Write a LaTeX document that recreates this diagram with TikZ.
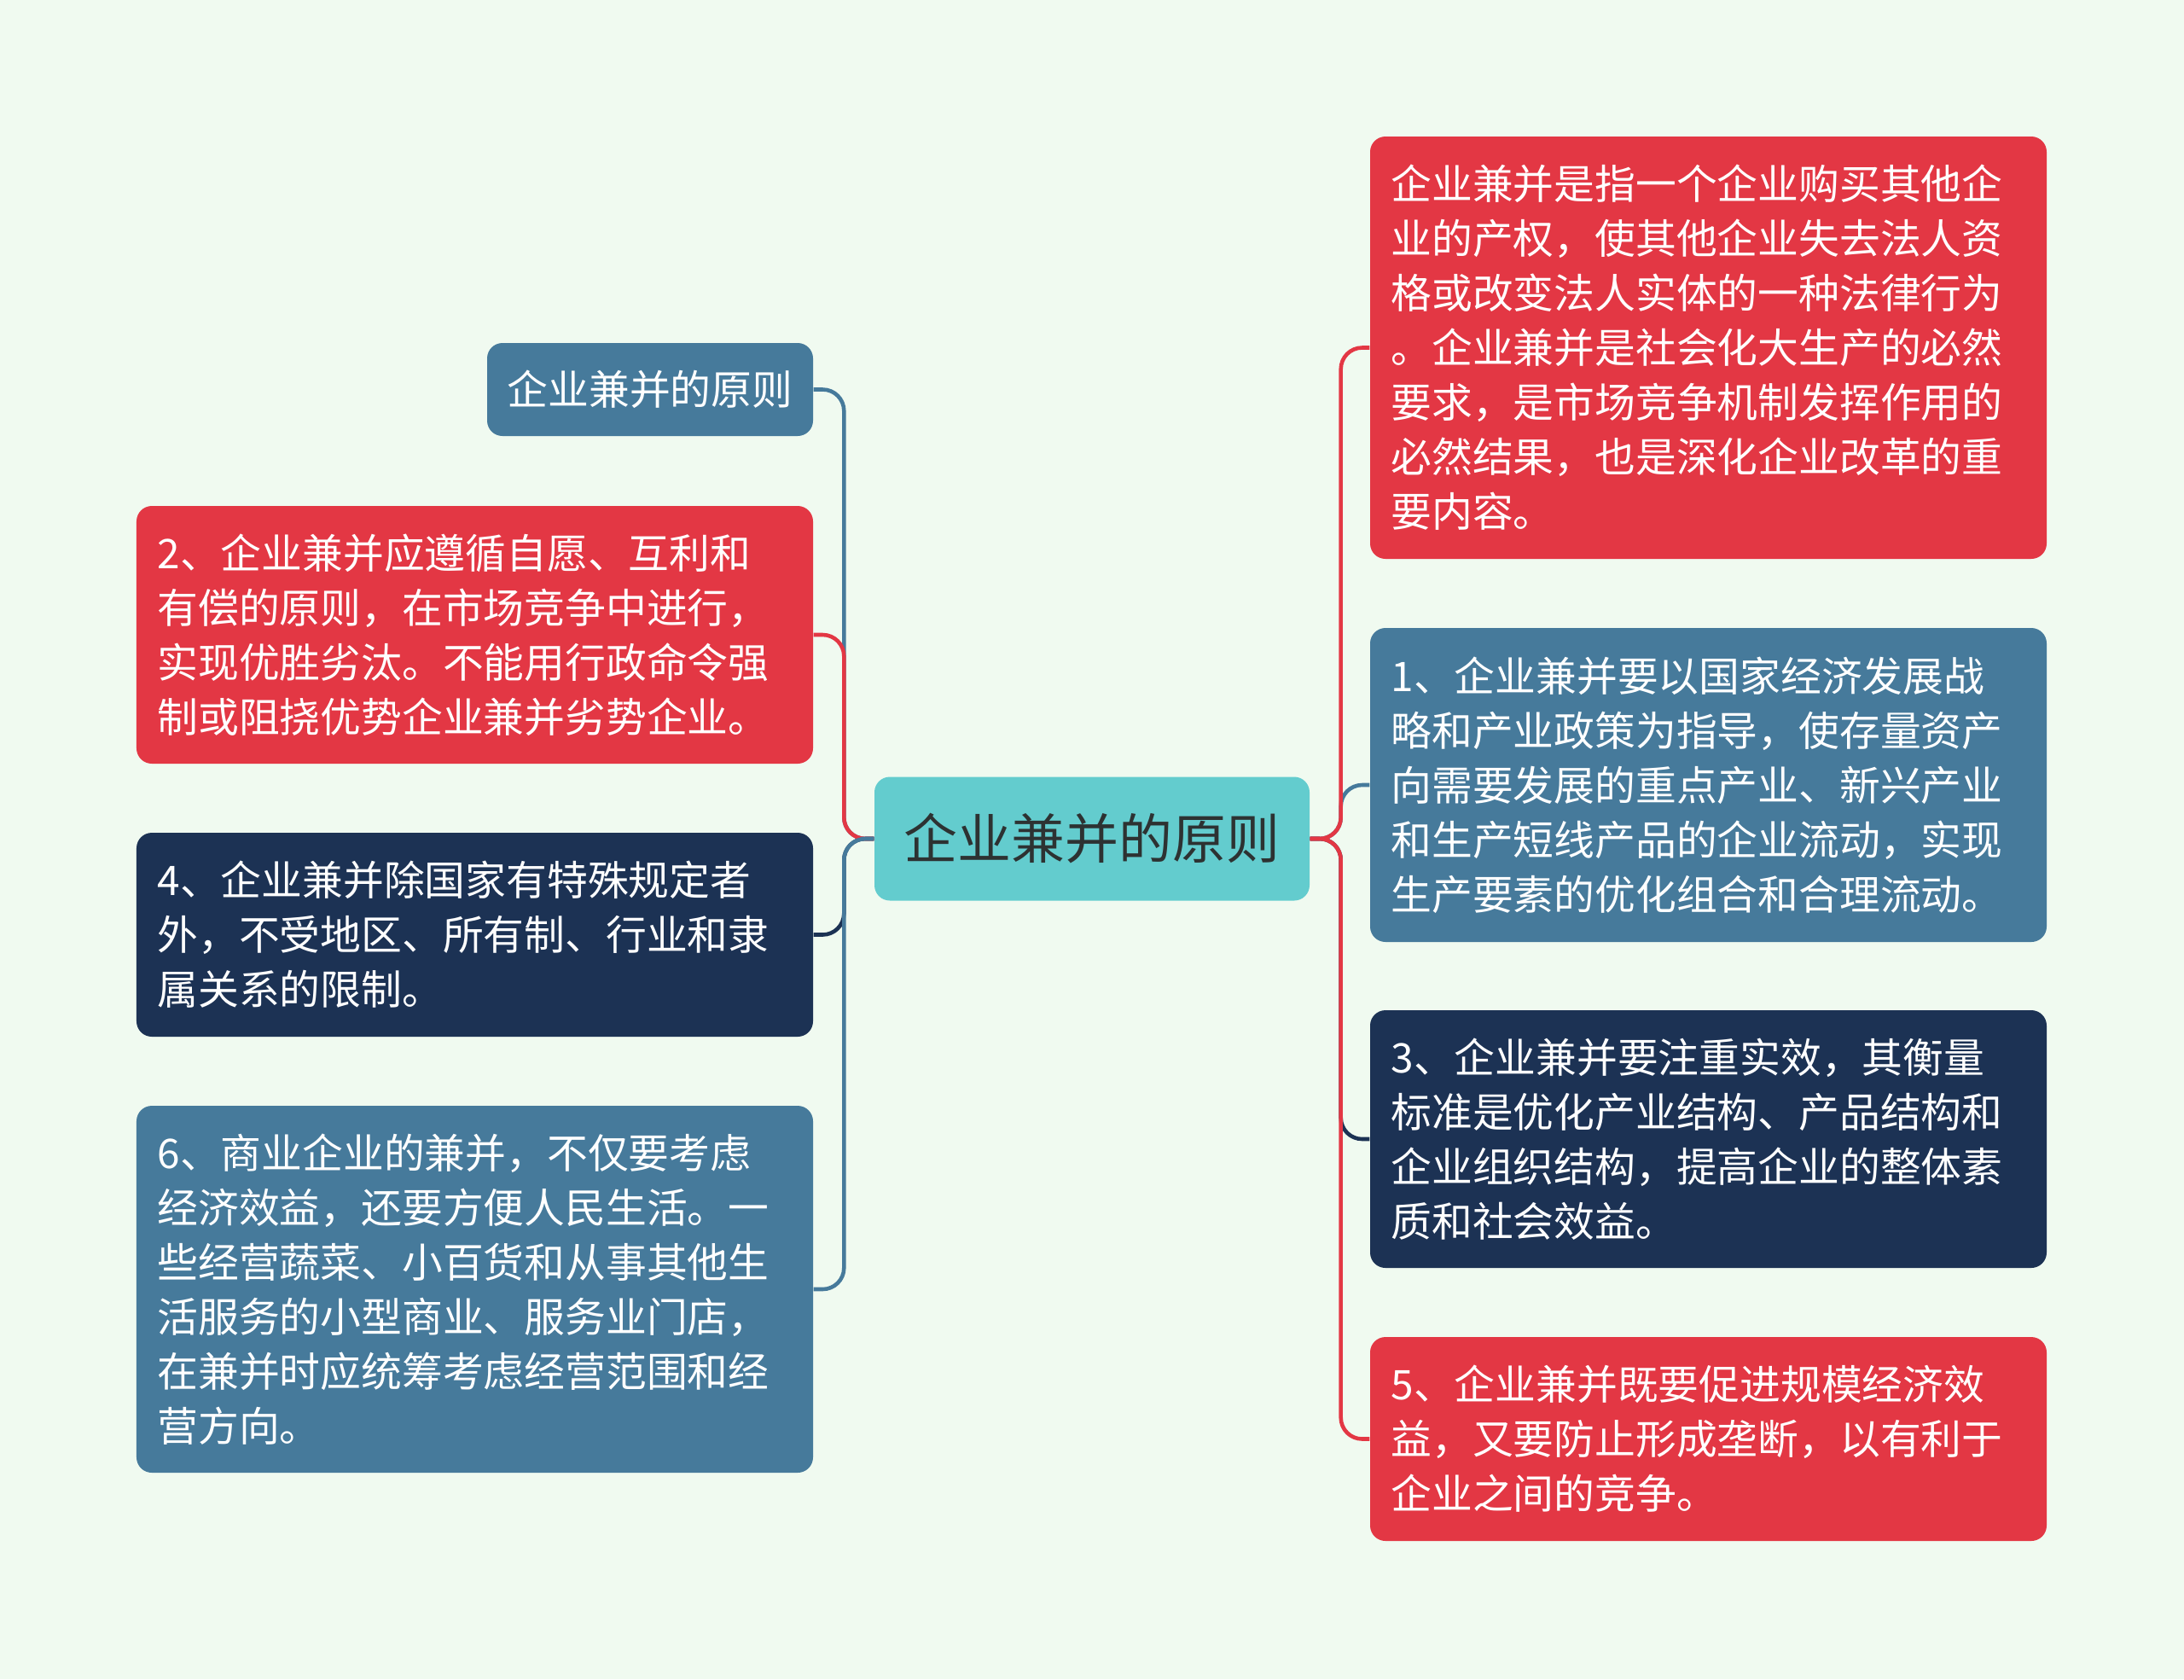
\documentclass[tikz,border=0pt]{standalone}
\usepackage{fontspec}
\setmainfont{Noto Sans CJK SC}
\usepackage{tikz}
\usetikzlibrary{positioning}
\definecolor{mapbg}{RGB}{240,250,240}
\definecolor{mapred}{RGB}{227,55,68}
\definecolor{mapblue}{RGB}{70,122,155}
\definecolor{mapnavy}{RGB}{28,50,84}
\definecolor{mapteal}{RGB}{99,204,206}
\definecolor{maptext}{RGB}{45,50,50}

\begin{document}
\begin{tikzpicture}[x=1mm,y=-1mm,
    every node/.style={font=\fontsize{13.6pt}{18.2pt}\selectfont},
    root/.style={rectangle,rounded corners=1.8mm,fill=mapteal,text=maptext,
      minimum width=51mm,minimum height=14.5mm,inner sep=0pt,
      font=\fontsize{17.9pt}{22pt}\selectfont},
    tag/.style={rectangle,rounded corners=1.8mm,text=white,
      minimum width=38.2mm,minimum height=10.9mm,inner sep=0pt},
    leaf/.style={rectangle,rounded corners=1.8mm,text=white,align=left,
      text width=74.4mm,inner xsep=2.45mm,inner ysep=0pt,minimum width=79.3mm},
    link/.style={line width=1.3pt,rounded corners=2.5mm}]
  \fill[mapbg] (0,0) rectangle (256,196.8);
  \useasboundingbox (0,0) rectangle (256,196.8);

  \node[root] (root) at (128,98.3) {企业兼并的原则};

  % left side
  \node[tag,fill=mapblue] (title) at (76.2,45.65) {企业兼并的原则};
  \node[leaf,fill=mapred,minimum height=30.2mm] (p2) at (55.65,74.4)
    {2、企业兼并应遵循自愿、互利和\\有偿的原则，在市场竞争中进行，\\实现优胜劣汰。不能用行政命令强\\制或阻挠优势企业兼并劣势企业。};
  \node[leaf,fill=mapnavy,minimum height=23.9mm] (p4) at (55.65,109.55)
    {4、企业兼并除国家有特殊规定者\\外，不受地区、所有制、行业和隶\\属关系的限制。};
  \node[leaf,fill=mapblue,minimum height=43mm] (p6) at (55.65,151.1)
    {6、商业企业的兼并，不仅要考虑\\经济效益，还要方便人民生活。一\\些经营蔬菜、小百货和从事其他生\\活服务的小型商业、服务业门店，\\在兼并时应统筹考虑经营范围和经\\营方向。};

  % right side
  \node[leaf,fill=mapred,minimum height=49.5mm] (def) at (200.25,40.75)
    {企业兼并是指一个企业购买其他企\\业的产权，使其他企业失去法人资\\格或改变法人实体的一种法律行为\\。企业兼并是社会化大生产的必然\\要求，是市场竞争机制发挥作用的\\必然结果，也是深化企业改革的重\\要内容。};
  \node[leaf,fill=mapblue,minimum height=36.8mm] (p1) at (200.25,92)
    {1、企业兼并要以国家经济发展战\\略和产业政策为指导，使存量资产\\向需要发展的重点产业、新兴产业\\和生产短线产品的企业流动，实现\\生产要素的优化组合和合理流动。};
  \node[leaf,fill=mapnavy,minimum height=30.2mm] (p3) at (200.25,133.5)
    {3、企业兼并要注重实效，其衡量\\标准是优化产业结构、产品结构和\\企业组织结构，提高企业的整体素\\质和社会效益。};
  \node[leaf,fill=mapred,minimum height=23.9mm] (p5) at (200.25,168.65)
    {5、企业兼并既要促进规模经济效\\益，又要防止形成垄断，以有利于\\企业之间的竞争。};

  % branches
  \draw[link,mapblue] (root.west) -- ++(-3.5,0) |- (title.east);
  \draw[link,mapnavy] (root.west) -- ++(-3.5,0) |- (p4.east);
  \draw[link,mapred] (root.west) -- ++(-3.5,0) |- (p2.east);
  \draw[link,mapblue] (root.west) -- ++(-3.5,0) |- (p6.east);
  \draw[link,mapblue] (root.east) -- ++(3.6,0) |- (p1.west);
  \draw[link,mapnavy] (root.east) -- ++(3.6,0) |- (p3.west);
  \draw[link,mapred] (root.east) -- ++(3.6,0) |- (p5.west);
  \draw[link,mapred] (root.east) -- ++(3.6,0) |- (def.west);
\end{tikzpicture}
\end{document}
